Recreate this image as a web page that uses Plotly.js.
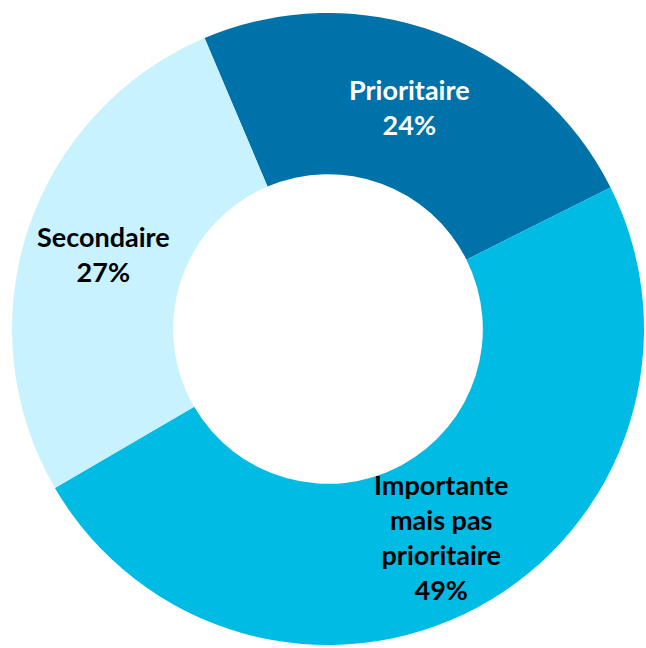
<!DOCTYPE html>
<html>
<head>
<meta charset="utf-8">
<script src="https://cdn.plot.ly/plotly-3.0.1.min.js"></script>
<style>html,body{margin:0;padding:0;background:#fff;}#chart{width:646px;height:648px;}</style>
</head>
<body>
<div id="chart"></div>
<script>
const categories = ['Prioritaire', 'Importante mais pas prioritaire', 'Secondaire'];
const sliceLabels = ['Prioritaire', 'Importante<br>mais pas<br>prioritaire', 'Secondaire'];
const values = [24, 49, 27];
const colors = ['#0072AA', '#00BBE4', '#C8F2FE'];
const textColors = ['#FFFFFF', '#000000', '#000000'];

const W = 646, H = 648;
const domainX = [0.0186, 0.9969], domainY = [0.0046, 0.980];
const rotation = -23;
const hole = 0.49;
const labelRadius = 0.75;

const trace = {
  type: 'pie',
  labels: categories,
  values: values,
  textinfo: 'none',
  hole: hole,
  sort: false,
  direction: 'clockwise',
  rotation: rotation,
  marker: {colors: colors, line: {width: 0}},
  domain: {x: domainX, y: domainY},
  showlegend: false,
  hoverinfo: 'label+percent'
};

// label positions derived from the slice mid-angles
const total = values.reduce((a, b) => a + b, 0);
const cx = (domainX[0] + domainX[1]) / 2 * W;
const cyUp = (domainY[0] + domainY[1]) / 2 * H;
const R = Math.min((domainX[1] - domainX[0]) * W, (domainY[1] - domainY[0]) * H) / 2;
let cum = 0;
const annotations = values.map((v, i) => {
  const mid = (rotation + (cum + v / 2) / total * 360) * Math.PI / 180;
  cum += v;
  const px = cx + labelRadius * R * Math.sin(mid);
  const py = cyUp + labelRadius * R * Math.cos(mid);
  const pct = Math.round(v / total * 100) + '%';
  return {
    xref: 'paper', yref: 'paper', x: px / W, y: py / H,
    xanchor: 'center', yanchor: 'middle', showarrow: false,
    text: sliceLabels[i] + '<br>' + pct,
    align: 'center',
    font: {family: 'Lato, sans-serif', size: 27, weight: 700, color: textColors[i]}
  };
});

Plotly.newPlot('chart', [trace], {
  width: W, height: H,
  margin: {l: 0, r: 0, t: 0, b: 0},
  paper_bgcolor: '#FFFFFF',
  showlegend: false,
  annotations: annotations
}, {displayModeBar: false, staticPlot: true});
</script>
</body>
</html>
